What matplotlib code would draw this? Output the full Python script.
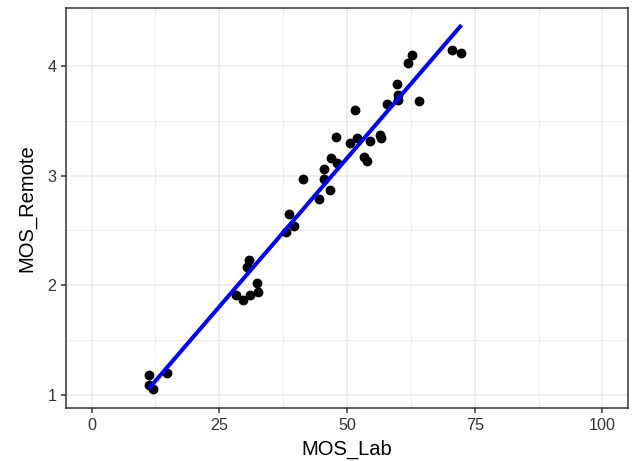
import numpy as np
import matplotlib
matplotlib.use("Agg")
import matplotlib.pyplot as plt

# values
mos_lab = [11.2, 11.2, 12.0, 14.7, 28.2, 29.6, 31.0, 32.4, 32.5, 30.4, 30.8,
           38.0, 38.6, 39.6, 41.4, 44.5, 45.5, 45.5, 46.7, 46.9, 47.8, 48.0,
           50.6, 51.5, 52.0, 53.3, 53.9, 54.5, 56.5, 56.7, 57.8, 59.8, 60.0,
           60.0, 62.0, 62.7, 64.1, 70.6, 72.4]
mos_remote = [1.18, 1.09, 1.05, 1.20, 1.91, 1.87, 1.91, 2.02, 1.94, 2.17, 2.23,
              2.49, 2.65, 2.54, 2.97, 2.79, 3.06, 2.97, 2.87, 3.16, 3.35, 3.12,
              3.30, 3.60, 3.34, 3.17, 3.13, 3.32, 3.37, 3.34, 3.65, 3.84, 3.74,
              3.69, 4.03, 4.10, 3.68, 4.15, 4.12]

x_ticks = [0, 25, 50, 75, 100]
y_ticks = [1, 2, 3, 4]

plt.rcParams['font.family'] = ['Liberation Sans', 'DejaVu Sans']

fig = plt.figure(figsize=(6.34, 4.61), dpi=100)
ax = fig.add_axes([66 / 634, 1 - 408 / 461, (628 - 66) / 634, (408 - 8) / 461])

# linear fit, like geom_smooth(method = "lm", se = FALSE)
x = np.array(mos_lab)
y = np.array(mos_remote)
slope, icpt = np.polyfit(x, y, 1)
xs = np.linspace(x.min(), x.max(), 50)

ax.scatter(x, y, s=50, color='black', zorder=3, linewidths=0)
ax.plot(xs, slope * xs + icpt, color='#0000ff', lw=2.9, zorder=4,
        solid_capstyle='butt')

ax.set_xlim(-5, 105)
ax.set_ylim(0.88, 4.53)
ax.set_xticks(x_ticks)
ax.set_yticks(y_ticks)
ax.set_xticks([12.5, 37.5, 62.5, 87.5], minor=True)
ax.set_yticks([1.5, 2.5, 3.5], minor=True)

ax.grid(which='major', color='#ebebeb', lw=1.1, zorder=0)
ax.grid(which='minor', color='#ebebeb', lw=0.55, zorder=0)
ax.set_axisbelow(True)

for s in ax.spines.values():
    s.set_color('#333333')
    s.set_linewidth(1.1)

ax.tick_params(which='major', length=3.5, width=1.1, color='#333333',
               labelsize=11.6, labelcolor='#333333', pad=3.5)
ax.tick_params(which='minor', length=0)

ax.set_xlabel('MOS_Lab', fontsize=14.5, labelpad=5)
ax.set_ylabel('MOS_Remote', fontsize=14.5, labelpad=8)

fig.savefig('out.png', dpi=100)
